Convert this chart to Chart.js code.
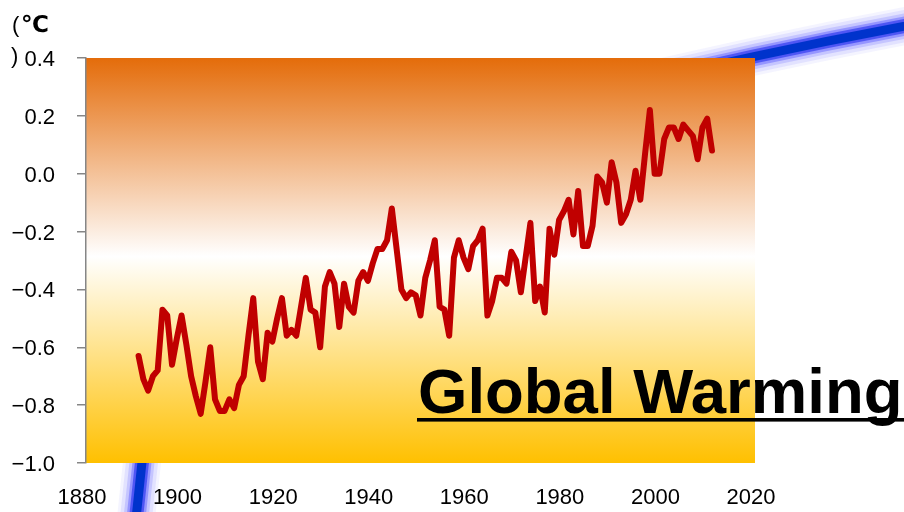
<!DOCTYPE html>
<html>
<head>
<meta charset="utf-8">
<script src="https://cdn.jsdelivr.net/npm/chart.js@4.4.1/dist/chart.umd.min.js"></script>
<style>
  html, body { margin: 0; padding: 0; background: #ffffff; }
  #wrap { width: 904px; height: 512px; position: relative; }
</style>
</head>
<body>
<div id="wrap"><canvas id="c" width="904" height="512"></canvas></div>
<script>
// Annual global mean temperature anomaly (°C)
const years = [
  1891, 1892, 1893, 1894, 1895, 1896, 1897, 1898, 1899, 1900,
  1901, 1902, 1903, 1904, 1905, 1906, 1907, 1908, 1909, 1910,
  1911, 1912, 1913, 1914, 1915, 1916, 1917, 1918, 1919, 1920,
  1921, 1922, 1923, 1924, 1925, 1926, 1927, 1928, 1929, 1930,
  1931, 1932, 1933, 1934, 1935, 1936, 1937, 1938, 1939, 1940,
  1941, 1942, 1943, 1944, 1945, 1946, 1947, 1948, 1949, 1950,
  1951, 1952, 1953, 1954, 1955, 1956, 1957, 1958, 1959, 1960,
  1961, 1962, 1963, 1964, 1965, 1966, 1967, 1968, 1969, 1970,
  1971, 1972, 1973, 1974, 1975, 1976, 1977, 1978, 1979, 1980,
  1981, 1982, 1983, 1984, 1985, 1986, 1987, 1988, 1989, 1990,
  1991, 1992, 1993, 1994, 1995, 1996, 1997, 1998, 1999, 2000,
  2001, 2002, 2003, 2004, 2005, 2006, 2007, 2008, 2009, 2010,
  2011
];
const anomalies = [
  -0.63, -0.71, -0.75, -0.70, -0.68, -0.47, -0.49, -0.66, -0.57, -0.49,
  -0.59, -0.70, -0.77, -0.83, -0.72, -0.60, -0.78, -0.82, -0.82, -0.78,
  -0.81, -0.73, -0.70, -0.56, -0.43, -0.65, -0.71, -0.55, -0.58, -0.50,
  -0.43, -0.56, -0.54, -0.56, -0.46, -0.36, -0.47, -0.48, -0.60, -0.39,
  -0.34, -0.38, -0.53, -0.38, -0.46, -0.48, -0.37, -0.34, -0.37, -0.31,
  -0.26, -0.26, -0.23, -0.12, -0.26, -0.40, -0.43, -0.41, -0.42, -0.49,
  -0.36, -0.30, -0.23, -0.46, -0.47, -0.56, -0.29, -0.23, -0.29, -0.33,
  -0.25, -0.23, -0.19, -0.49, -0.44, -0.36, -0.36, -0.38, -0.27, -0.30,
  -0.41, -0.29, -0.17, -0.44, -0.39, -0.48, -0.19, -0.28, -0.16, -0.13,
  -0.09, -0.21, -0.06, -0.25, -0.25, -0.18, -0.01, -0.03, -0.10, 0.04,
  -0.03, -0.17, -0.14, -0.09, 0.01, -0.09, 0.07, 0.22, 0.00, 0.00,
  0.12, 0.16, 0.16, 0.12, 0.17, 0.15, 0.13, 0.05, 0.16, 0.19,
  0.08
];

// Axis ticks
const xTickValues = [1880, 1900, 1920, 1940, 1960, 1980, 2000, 2020];
const yTickValues = [0.4, 0.2, 0.0, -0.2, -0.4, -0.6, -0.8, -1.0];

// Texts
const titleText = 'Global Warming';
const unitOpen = '(';
const unitSymbol = '\u2103';
const unitClose = ')';

const FONT = '"Liberation Sans", Arial, "DejaVu Sans", sans-serif';

function formatY(v) {
  if (Math.abs(v) < 1e-9) return '0.0';
  return (v < 0 ? '\u2212' : '') + Math.abs(v).toFixed(1);
}

// Decorative horizon stroke; its middle runs behind the plot panel
function horizonPath(ctx) {
  ctx.beginPath();
  ctx.moveTo(131.6, 560);
  ctx.lineTo(159.2, 300);
  ctx.quadraticCurveTo(170, 197, 600, 92);
  ctx.quadraticCurveTo(780, 48, 960, 16);
}

// Background: white page, glowing blue horizon, gradient plot panel
const backdrop = {
  id: 'backdrop',
  beforeDraw(chart) {
    const ctx = chart.ctx;
    const a = chart.chartArea;
    ctx.save();
    ctx.fillStyle = '#ffffff';
    ctx.fillRect(0, 0, chart.width, chart.height);

    horizonPath(ctx);
    ctx.lineCap = 'round';
    ctx.lineJoin = 'round';
    const glow = [
      [38, 'rgba(150,150,255,0.10)'],
      [32, 'rgba(135,135,255,0.16)'],
      [25, 'rgba(115,115,255,0.26)'],
      [19, 'rgba(90,90,255,0.45)'],
      [14, 'rgba(50,60,240,0.70)']
    ];
    glow.forEach(([w, c]) => { ctx.lineWidth = w; ctx.strokeStyle = c; ctx.stroke(); });
    ctx.lineWidth = 9;
    ctx.strokeStyle = '#0033CC';
    ctx.stroke();

    const g = ctx.createLinearGradient(0, a.top, 0, a.bottom);
    g.addColorStop(0, '#E46C0A');
    g.addColorStop(0.49, '#FFFFFF');
    g.addColorStop(1, '#FFC000');
    ctx.fillStyle = g;
    ctx.fillRect(a.left, a.top, a.right - a.left, a.bottom - a.top);
    ctx.restore();
  },
  afterDraw(chart) {
    const ctx = chart.ctx;
    ctx.save();
    ctx.fillStyle = '#000000';
    ctx.textAlign = 'left';
    ctx.textBaseline = 'alphabetic';
    // unit label, wrapped over two lines
    ctx.font = '22px ' + FONT;
    ctx.fillText(unitOpen, 12, 32);
    ctx.font = 'bold 23px "DejaVu Sans", sans-serif';
    ctx.fillText(unitSymbol, 21, 32);
    ctx.font = '22px ' + FONT;
    ctx.fillText(unitClose, 11, 63);
    // underlined title
    ctx.font = 'bold 63.5px ' + FONT;
    ctx.fillText(titleText, 418, 413);
    ctx.fillRect(417, 418, 487, 3.6);
    ctx.restore();
  }
};

new Chart(document.getElementById('c'), {
  type: 'line',
  data: {
    datasets: [{
      data: years.map((yr, i) => ({ x: yr, y: anomalies[i] })),
      borderColor: '#C00000',
      borderWidth: 6,
      borderJoinStyle: 'round',
      borderCapStyle: 'round',
      pointRadius: 0,
      tension: 0,
      fill: false
    }]
  },
  options: {
    responsive: false,
    devicePixelRatio: 1,
    animation: false,
    layout: { padding: { left: 12, right: 149, top: 58, bottom: 0 } },
    plugins: { legend: { display: false }, tooltip: { enabled: false } },
    scales: {
      x: {
        type: 'linear',
        min: 1880,
        max: 2020,
        afterBuildTicks: s => { s.ticks = xTickValues.map(v => ({ value: v })); },
        afterFit: s => { s.height = 49; },
        grid: { display: false, drawTicks: false, tickLength: 0 },
        border: { display: false },
        ticks: {
          padding: 22,
          labelOffset: -4,
          color: '#000000',
          maxRotation: 0,
          autoSkip: false,
          font: { family: FONT, size: 22 },
          callback: v => String(v)
        }
      },
      y: {
        type: 'linear',
        min: -1.0,
        max: 0.4,
        afterBuildTicks: s => { s.ticks = yTickValues.map(v => ({ value: v })); },
        afterFit: s => { s.width = 74; },
        grid: { drawOnChartArea: false, drawTicks: true, tickLength: 9, color: '#868686', lineWidth: 1.5 },
        border: { display: true, color: '#868686', width: 1.5 },
        ticks: {
          padding: 22,
          labelOffset: 2,
          color: '#000000',
          autoSkip: false,
          font: { family: FONT, size: 22 },
          callback: v => formatY(v)
        }
      }
    }
  },
  plugins: [backdrop]
});
</script>
</body>
</html>
